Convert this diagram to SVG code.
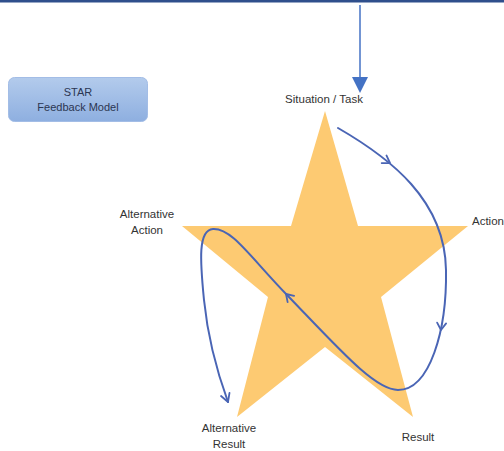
<svg xmlns="http://www.w3.org/2000/svg" width="504" height="451" viewBox="0 0 504 451">
<style>
text{font-family:"Liberation Sans",Arial,sans-serif;fill:#333;font-size:11.5px}
.lbl{text-anchor:middle}
.flow{fill:none;stroke:#4a65b5;stroke-width:2;stroke-linecap:round;stroke-linejoin:round}
.chev{fill:none;stroke:#4a65b5;stroke-width:1.8;stroke-linecap:round;stroke-linejoin:round}
</style>
<defs>
<linearGradient id="boxg" x1="0" y1="0" x2="0" y2="1">
<stop offset="0" stop-color="#b3cbec"/>
<stop offset="1" stop-color="#8eafe0"/>
</linearGradient>
<path id="chev" d="M-7,-4.5 L0,0 L-7,4.5"/>
<marker id="endArrow" viewBox="-10 -6 12 12" refX="0" refY="0" markerWidth="12" markerHeight="12" markerUnits="userSpaceOnUse" orient="auto">
<path d="M-8,-4.5 L0,0 L-8,4.5" fill="none" stroke="#4a65b5" stroke-width="1.8" stroke-linecap="round" stroke-linejoin="round"/>
</marker>
</defs>
<rect x="0" y="0" width="504" height="2.5" fill="#2f4f8c"/>
<g id="title">
<rect x="8.5" y="77.5" width="139" height="44" rx="6" fill="url(#boxg)" stroke="#a3bde6" stroke-width="1"/>
<text class="lbl" x="78" y="96" style="fill:#2b3652;font-size:11px">STAR</text>
<text class="lbl" x="78" y="111" style="fill:#2b3652;font-size:11px">Feedback Model</text>
</g>
<g id="star">
<polygon points="325,111 358,226 468,226 381,297 413,417 325,347 237,417 268,297 182,226 291,226" fill="#fdca72"/>
</g>
<g id="situation"><text class="lbl" x="324" y="103">Situation / Task</text></g>
<g id="action"><text x="472" y="225">Action</text></g>
<g id="result"><text class="lbl" x="418" y="441">Result</text></g>
<g id="alt-action">
<text class="lbl" x="147" y="218">Alternative</text>
<text class="lbl" x="147" y="234">Action</text>
</g>
<g id="alt-result">
<text class="lbl" x="229" y="432">Alternative</text>
<text class="lbl" x="229" y="448">Result</text>
</g>
<g id="connectors">
<line x1="360" y1="5" x2="360" y2="79" stroke="#4472c4" stroke-width="1.5"/>
<polygon points="352,77 368,77 360,93" fill="#4472c4"/>
<path class="flow" marker-end="url(#endArrow)" d="M338,128 C390,158 445,200 446,270 C447,330 430,390 398,390 C375,390 340,350 288,296 C250,257 232,228 213,229 C198,230 200,260 204,300 C208,340 220,380 228,402"/>
<use href="#chev" class="chev" transform="translate(390,163) rotate(32)"/>
<use href="#chev" class="chev" transform="translate(441,330) rotate(95)"/>
<use href="#chev" class="chev" transform="translate(286,294) rotate(-134)"/>
</g>
</svg>
